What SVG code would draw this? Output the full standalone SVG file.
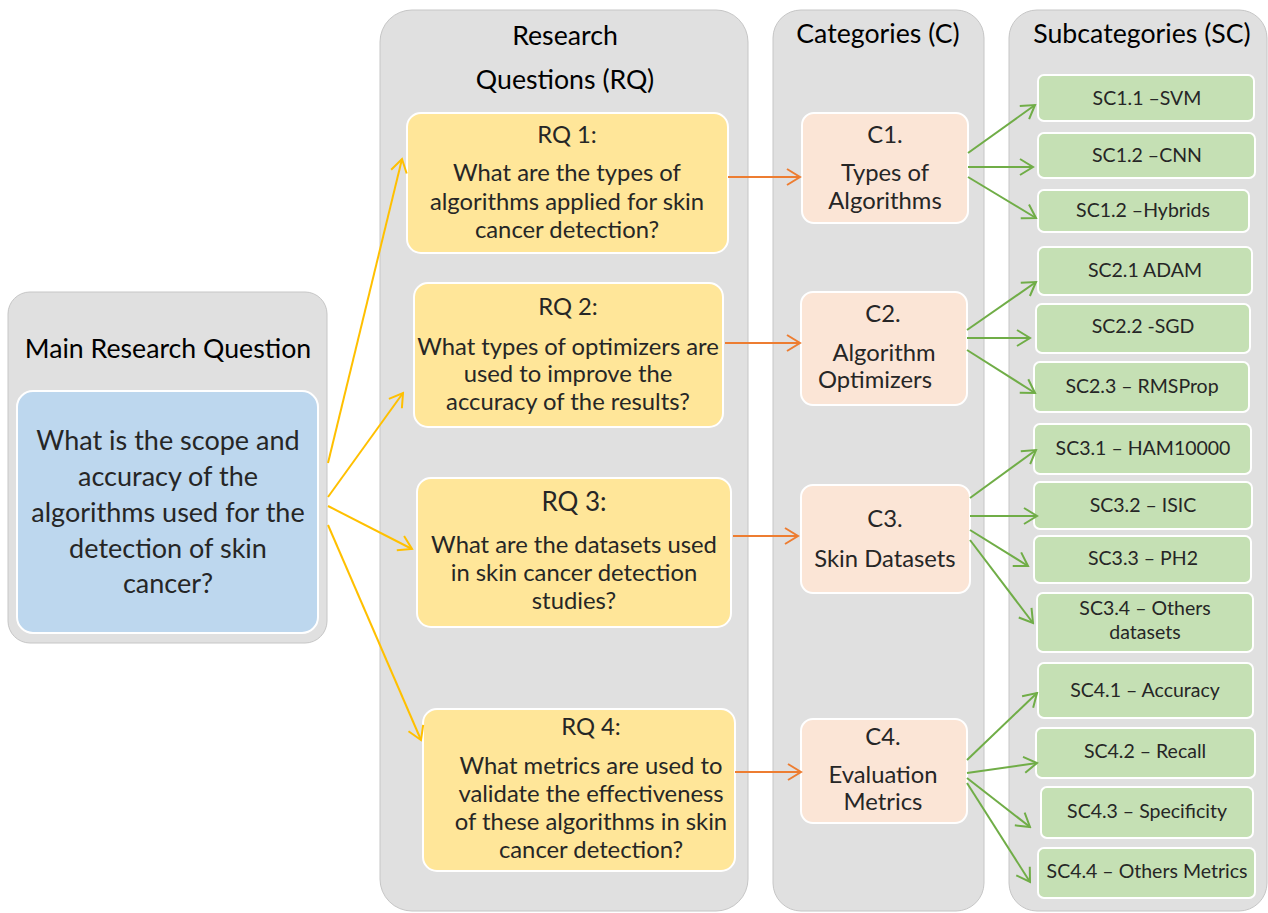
<svg xmlns="http://www.w3.org/2000/svg" width="1268" height="913" viewBox="0 0 1268 913">
<defs>
<style>
.panel{fill:#e0e0e0;stroke:#c6c6c6;stroke-width:1}
.blue{fill:#bdd7ee;stroke:#ffffff;stroke-width:2}
.rq{fill:#ffe699;stroke:#ffffff;stroke-width:2}
.cat{fill:#fbe5d6;stroke:#ffffff;stroke-width:2}
.sc{fill:#c5e0b4;stroke:#ffffff;stroke-width:2}
text{font-family:Lato,"Open Sans","Liberation Sans",sans-serif;text-anchor:middle;fill:#262626}
.title{font-size:26.7px;fill:#000000}
.main{font-size:27px}
.rqt{font-size:23.8px}
.ct{font-size:23.8px}
.sct{font-size:19.5px}
.cy{stroke:#ffc000;stroke-width:2;fill:none;marker-end:url(#my)}
.co{stroke:#ed7d31;stroke-width:2;fill:none;marker-end:url(#mo)}
.cg{stroke:#70ad47;stroke-width:2;fill:none;marker-end:url(#mg)}
</style>
<marker id="my" viewBox="-2 -10 17 20" refX="13" refY="0" markerWidth="17" markerHeight="20" markerUnits="userSpaceOnUse" orient="auto"><path d="M0,-8 L13,0 L0,8" fill="none" stroke="#ffc000" stroke-width="2"/></marker>
<marker id="mo" viewBox="-2 -10 17 20" refX="13" refY="0" markerWidth="17" markerHeight="20" markerUnits="userSpaceOnUse" orient="auto"><path d="M0,-8 L13,0 L0,8" fill="none" stroke="#ed7d31" stroke-width="2"/></marker>
<marker id="mg" viewBox="-2 -10 17 20" refX="13" refY="0" markerWidth="17" markerHeight="20" markerUnits="userSpaceOnUse" orient="auto"><path d="M0,-8 L13,0 L0,8" fill="none" stroke="#70ad47" stroke-width="2"/></marker>
</defs>
<rect width="1268" height="913" fill="#ffffff"/>

<g id="panel-main">
<rect class="panel" x="8" y="292" width="319" height="351" rx="22"/>
<text class="title" x="168" y="358">Main Research Question</text>
</g>
<g id="panel-rq">
<rect class="panel" x="380" y="10" width="368" height="901" rx="32"/>
<text class="title" x="565" y="45">Research</text>
<text class="title" x="565" y="89">Questions (RQ)</text>
</g>
<g id="panel-c">
<rect class="panel" x="773" y="10" width="211" height="901" rx="28"/>
<text class="title" x="878" y="43">Categories (C)</text>
</g>
<g id="panel-sc">
<rect class="panel" x="1009" y="10" width="258" height="901" rx="28"/>
<text class="title" x="1142" y="43">Subcategories (SC)</text>
</g>

<g id="main-q">
<rect class="blue" x="17" y="391" width="301" height="242" rx="16"/>
<text class="main" x="168" y="450">What is the scope and</text>
<text class="main" x="168" y="486">accuracy of the</text>
<text class="main" x="168" y="522">algorithms used for the</text>
<text class="main" x="168" y="558">detection of skin</text>
<text class="main" x="168" y="593">cancer?</text>
</g>

<g id="rq1">
<rect class="rq" x="407" y="113" width="321" height="140" rx="14"/>
<text class="rqt" x="567" y="143">RQ 1:</text>
<text class="rqt" x="567" y="181">What are the types of</text>
<text class="rqt" x="567" y="210">algorithms applied for skin</text>
<text class="rqt" x="567" y="238">cancer detection?</text>
</g>
<g id="rq2">
<rect class="rq" x="414" y="283" width="309" height="144" rx="14"/>
<text class="rqt" x="568" y="315">RQ 2:</text>
<text class="rqt" x="568" y="355">What types of optimizers are</text>
<text class="rqt" x="568" y="382">used to improve the</text>
<text class="rqt" x="568" y="410">accuracy of the results?</text>
</g>
<g id="rq3">
<rect class="rq" x="417" y="478" width="314" height="149" rx="14"/>
<text class="rqt" x="574" y="511" style="font-size:26px">RQ 3:</text>
<text class="rqt" x="574" y="553">What are the datasets used</text>
<text class="rqt" x="574" y="581">in skin cancer detection</text>
<text class="rqt" x="574" y="609">studies?</text>
</g>
<g id="rq4">
<rect class="rq" x="423" y="709" width="312" height="162" rx="14"/>
<text class="rqt" x="591" y="735">RQ 4:</text>
<text class="rqt" x="591" y="774">What metrics are used to</text>
<text class="rqt" x="591" y="802">validate the effectiveness</text>
<text class="rqt" x="591" y="830">of these algorithms in skin</text>
<text class="rqt" x="591" y="858">cancer detection?</text>
</g>

<g id="c1">
<rect class="cat" x="802" y="113" width="166" height="110" rx="12"/>
<text class="ct" x="885" y="143">C1.</text>
<text class="ct" x="885" y="181">Types of</text>
<text class="ct" x="885" y="209">Algorithms</text>
</g>
<g id="c2">
<rect class="cat" x="801" y="292" width="166" height="113" rx="12"/>
<text class="ct" x="883" y="322">C2.</text>
<text class="ct" x="884" y="361">Algorithm</text>
<text class="ct" x="875" y="388">Optimizers</text>
</g>
<g id="c3">
<rect class="cat" x="801" y="485" width="169" height="108" rx="12"/>
<text class="ct" x="885" y="527">C3.</text>
<text class="ct" x="885" y="567">Skin Datasets</text>
</g>
<g id="c4">
<rect class="cat" x="801" y="719" width="166" height="104" rx="12"/>
<text class="ct" x="883" y="745">C4.</text>
<text class="ct" x="883" y="783">Evaluation</text>
<text class="ct" x="883" y="810">Metrics</text>
</g>

<g id="sc11"><rect class="sc" x="1038" y="75" width="216" height="46" rx="6"/><text class="sct" x="1147" y="105">SC1.1 –SVM</text></g>
<g id="sc12"><rect class="sc" x="1038" y="133" width="217" height="45" rx="6"/><text class="sct" x="1147" y="162">SC1.2 –CNN</text></g>
<g id="sc13"><rect class="sc" x="1038" y="190" width="211" height="42" rx="6"/><text class="sct" x="1143" y="217">SC1.2 –Hybrids</text></g>
<g id="sc21"><rect class="sc" x="1038" y="247" width="214" height="48" rx="6"/><text class="sct" x="1145" y="277">SC2.1 ADAM</text></g>
<g id="sc22"><rect class="sc" x="1036" y="304" width="214" height="49" rx="6"/><text class="sct" x="1143" y="333">SC2.2 -SGD</text></g>
<g id="sc23"><rect class="sc" x="1034" y="362" width="215" height="50" rx="6"/><text class="sct" x="1142" y="393">SC2.3 – RMSProp</text></g>
<g id="sc31"><rect class="sc" x="1034" y="424" width="217" height="50" rx="6"/><text class="sct" x="1143" y="455">SC3.1 – HAM10000</text></g>
<g id="sc32"><rect class="sc" x="1034" y="482" width="218" height="47" rx="6"/><text class="sct" x="1143" y="512">SC3.2 – ISIC</text></g>
<g id="sc33"><rect class="sc" x="1034" y="536" width="217" height="47" rx="6"/><text class="sct" x="1143" y="565">SC3.3 – PH2</text></g>
<g id="sc34"><rect class="sc" x="1037" y="593" width="216" height="59" rx="6"/><text class="sct" x="1145" y="615">SC3.4 – Others</text><text class="sct" x="1145" y="639">datasets</text></g>
<g id="sc41"><rect class="sc" x="1038" y="663" width="215" height="55" rx="6"/><text class="sct" x="1145" y="697">SC4.1 – Accuracy</text></g>
<g id="sc42"><rect class="sc" x="1036" y="728" width="219" height="50" rx="6"/><text class="sct" x="1145" y="758">SC4.2 – Recall</text></g>
<g id="sc43"><rect class="sc" x="1041" y="787" width="212" height="51" rx="6"/><text class="sct" x="1147" y="818">SC4.3 – Specificity</text></g>
<g id="sc44"><rect class="sc" x="1038" y="848" width="217" height="50" rx="6"/><text class="sct" x="1147" y="878">SC4.4 – Others Metrics</text></g>

<g id="connectors">
<line class="cy" x1="328" y1="463" x2="402" y2="159"/>
<line class="cy" x1="328" y1="497" x2="403" y2="393"/>
<line class="cy" x1="328" y1="506" x2="412" y2="549"/>
<line class="cy" x1="328" y1="525" x2="421" y2="740"/>
<line class="co" x1="728" y1="177" x2="800" y2="177"/>
<line class="co" x1="725" y1="343" x2="800" y2="343"/>
<line class="co" x1="733" y1="536" x2="798" y2="536"/>
<line class="co" x1="735" y1="772" x2="801" y2="772"/>
<line class="cg" x1="968" y1="153" x2="1035" y2="105"/>
<line class="cg" x1="968" y1="167" x2="1033" y2="167"/>
<line class="cg" x1="968" y1="177" x2="1036" y2="218"/>
<line class="cg" x1="967" y1="330" x2="1036" y2="282"/>
<line class="cg" x1="967" y1="338" x2="1030" y2="338"/>
<line class="cg" x1="967" y1="350" x2="1035" y2="393"/>
<line class="cg" x1="970" y1="498" x2="1036" y2="450"/>
<line class="cg" x1="970" y1="516" x2="1037" y2="516"/>
<line class="cg" x1="970" y1="530" x2="1028" y2="566"/>
<line class="cg" x1="970" y1="540" x2="1033" y2="623"/>
<line class="cg" x1="967" y1="760" x2="1037" y2="693"/>
<line class="cg" x1="967" y1="773" x2="1037" y2="763"/>
<line class="cg" x1="967" y1="778" x2="1030" y2="827"/>
<line class="cg" x1="967" y1="783" x2="1030" y2="882"/>
</g>
</svg>
